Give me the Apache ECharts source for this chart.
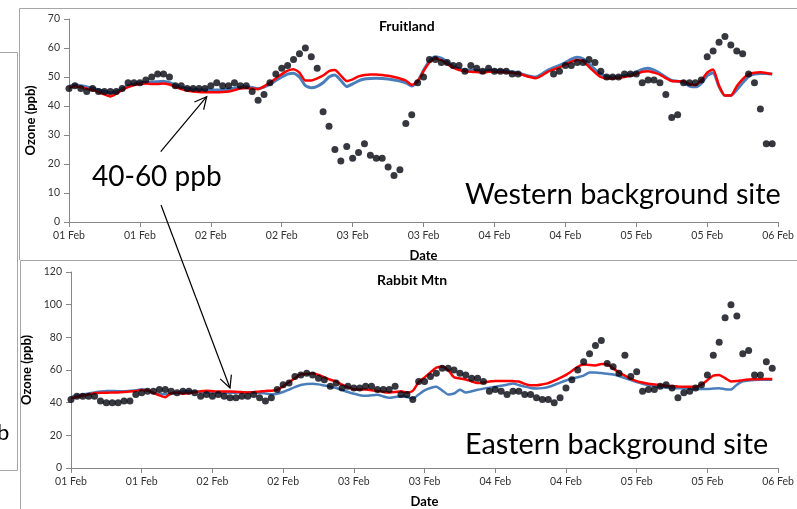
<!DOCTYPE html>
<html>
<head>
<meta charset="utf-8">
<script src="https://cdn.jsdelivr.net/npm/echarts@6/dist/echarts.min.js"></script>
<style>html,body{margin:0;padding:0;background:#fff}#c{width:797px;height:509px}</style>
</head>
<body>
<div id="c"></div>
<script>
// Hours since 01 Feb 00:00, tick labels every 12 hours
const tickLabels = ['01 Feb','01 Feb','02 Feb','02 Feb','03 Feb','03 Feb','04 Feb','04 Feb','05 Feb','05 Feb','06 Feb'];

// Fruitland (western background site) – hourly observed ozone (ppb)
const topObs = [
 46,47,46,45,46,45,45,45,45,46,
 48,48,48,49,50,51,51,50,47,47,
 46,46,46,46,47,48,47,47,48,47,
 47,45,42,44,48,51,53,54,56,58,
 60,57,53,38,33,25,21,26,22,24,
 27,23,22,22,19,16,18,34,37,48,
 50,56,56,55,55,54,54,52,54,53,
 52,53,52,52,52,51,51,null,null,null,
 null,null,51,52,54,54,55,55,56,55,
 52,50,50,50,51,51,51,48,49,49,
 48,44,36,37,48,48,48,49,57,59,
 62,64,61,59,58,51,48,39,27,27];
// Fruitland – model run (red)
const topRed = [
 46.3,46.8,46.5,46,45.5,44.8,44,43.3,44.2,45.5,
 46.5,47.2,47.6,47.8,47.6,47.6,47.8,47.4,46.6,45.8,
 45.3,45,44.8,44.7,44.7,44.7,44.8,45,45.5,46,
 46.2,46,45.8,46.8,48,49.5,51,52.2,52.7,51.5,
 48.8,48.8,49.5,50.5,52,52.4,50.5,48.6,49.2,50.2,
 50.7,50.9,50.9,50.7,50.4,50,49.5,48.8,47.3,48.5,
 52,55,56.4,55.8,54.5,53.2,52.4,52,51.8,51.7,
 51.5,51.8,51.8,51.7,51.6,51.5,51.2,50.6,50,49.6,
 50.5,51.8,52.6,53.3,54.3,55.3,55.9,55.5,53.5,51.6,
 50,49.5,49.5,49.7,50,50.4,51,51.8,52,51.5,
 50.8,49.6,48.6,48.5,48.5,47.6,47.2,48.8,51.5,52.6,
 47,43.6,43.6,46.8,49.3,51,51.5,51.6,51.4,51];
// Fruitland – model run (blue)
const topBlue = [
 46.8,47.2,47,46.6,46.2,45.6,45,44.5,45,46,
 47,47.6,48,48.2,48.2,48.4,48.5,48,47.2,46.4,
 46,45.8,45.6,45.5,45.5,45.5,45.6,45.8,46.2,46.5,
 46.6,46.4,46,46.5,47.5,48.8,50,51,51.3,50,
 47,46.3,46.8,48,50,50.7,48.8,46.7,47.6,48.7,
 49.3,49.5,49.6,49.5,49.3,49,48.6,48,46.9,48.5,
 52.3,55.5,57,56.5,55.2,53.6,52.8,52.4,52.3,52.2,
 52.1,52.3,52.3,52.2,52,51.8,51.4,50.8,50.3,50,
 51,52.3,53.2,54,55,56.2,56.8,56.3,54.5,52.6,
 51,50.2,50,50.1,50.4,50.9,51.7,52.6,53,52.4,
 51.3,49.9,48.8,48.5,48.1,46.9,46.6,47.8,50.5,51.5,
 46.7,43.6,43.6,45.6,48,50.2,51,51.2,51.2,51];

// Rabbit Mtn (eastern background site) – hourly observed ozone (ppb)
const botObs = [
 42,44,44,44,44,41,40,40,40,41,
 41,45,46,47,47,48,48,47,46,47,
 47,46,44,45,44,45,44,43,43,44,
 44,45,43,41,43,48,51,52,56,57,
 58,57,55,54,50,52,49,50,49,49,
 50,50,48,48,48,50,45,45,42,53,
 53,56,58,61,61,60,58,57,55,55,
 53,47,48,47,45,47,47,45,45,43,
 42,42,40,43,49,54,60,65,70,75,
 78,64,62,58,69,56,59,47,48,48,
 50,51,49,43,46,47,49,51,57,69,
 77,92,100,93,70,72,57,57,65,61];
// Rabbit Mtn – model run (red)
const botRed = [
 42.7,43.5,44.3,45,45.7,46,46,46.3,46.3,46.5,
 46.8,47.2,47.7,47.5,46,44.5,43.3,45.8,46,45.5,
 45.8,46.3,47,47.3,47,46.8,46.8,46.8,46.7,46.5,
 46.3,46.5,46.8,47.2,47.3,47.8,50,52.5,55,57.3,
 57.6,58,57,55.5,54,53,51,49.5,48.2,48,
 48,47.6,47.2,46.6,46.3,46.5,47,46.2,47.2,52.5,
 55.5,58.5,61.5,62,60,55.5,54.8,54.2,53,52,
 52.3,53,53.2,53.2,53.3,53.2,53,51.5,50.6,50.6,
 51.2,52,53.5,55.2,57,59.4,62,63.4,63,62.8,
 63.6,63.5,61,58.5,56.5,54.5,53.2,52.3,51.6,51.2,
 50.8,50.4,50.1,49.9,49.8,49.8,49.6,51,53.8,56.5,
 57,55,53,53.2,53.8,54.2,54.3,54.4,54.5,54.5];
// Rabbit Mtn – model run (blue)
const botBlue = [
 43.7,44.3,45,45.6,46.3,46.8,47.2,47.2,47,47,
 47.3,47.6,48.2,47.5,45.8,45.3,45.2,45.3,46,46.8,
 47,46.8,46.5,46.3,46.2,46,46,46,46.1,46.3,
 46.3,46.2,46,45.6,45.2,45.5,46.5,48,49.5,50.8,
 51.4,51.6,51.2,50.5,49.8,49,47.8,46.5,45.5,44.6,
 44.2,44.5,44.8,43.8,43,43.5,44,43.5,42.5,45,
 47.5,49,49.8,47.5,45,45.6,47.9,46.3,47,47.9,
 48.6,49.2,49.8,50.4,51,51.8,50.8,49.8,49,48.7,
 48.9,49.6,50.8,52.3,53.6,54.7,55.6,56.6,58.5,58.5,
 58.1,57.7,57.3,56.3,55,53.8,52.6,51.6,50.8,50.2,
 49.6,49.2,49,48.8,48.7,48.5,48.3,48.3,48.3,48.6,
 48.9,48.2,48,51,53,53.6,53.9,54,54.1,54.1];

const pairs = arr => arr.map((v, i) => [i, v]).filter(p => p[1] !== null);

const FONT = 'Lato';
const axisGrey = '#868686';
function xAxis(gi) {
  return {
    type: 'value', gridIndex: gi, min: 0, max: 120, interval: 12,
    axisLine: { show: true, lineStyle: { color: axisGrey } },
    axisTick: { show: true, length: 5, lineStyle: { color: axisGrey } },
    splitLine: { show: false },
    axisLabel: { formatter: v => tickLabels[Math.round(v / 12)], color: '#333', fontSize: 10.5, fontFamily: FONT, margin: 8, showMaxLabel: true, showMinLabel: true },
    name: 'Date', nameLocation: 'middle', nameGap: 27,
    nameTextStyle: { fontWeight: 'bold', fontSize: 13, fontFamily: FONT, color: '#000' }
  };
}
function yAxis(gi, max, interval) {
  return {
    type: 'value', gridIndex: gi, min: 0, max: max, interval: interval,
    axisLine: { show: true, lineStyle: { color: axisGrey } },
    axisTick: { show: true, length: 5, lineStyle: { color: axisGrey } },
    splitLine: { show: false },
    axisLabel: { color: '#333', fontSize: 10.5, fontFamily: FONT, margin: 9 },
    name: 'Ozone (ppb)', nameLocation: 'middle', nameGap: 29,
    nameTextStyle: { fontWeight: 'bold', fontSize: 13, fontFamily: FONT, color: '#000' }
  };
}
function lineSeries(gi, data, color, width, z) {
  return { type: 'line', xAxisIndex: gi, yAxisIndex: gi, data: pairs(data), showSymbol: false,
    smooth: 0.2, lineStyle: { color: color, width: width }, itemStyle: { color: color }, z: z };
}
function dotSeries(gi, data) {
  return { type: 'scatter', xAxisIndex: gi, yAxisIndex: gi, data: pairs(data), symbolSize: 7,
    itemStyle: { color: '#05050f' }, z: 5 };
}

function arrow(x1, y1, x2, y2) {
  const dx = x2 - x1, dy = y2 - y1, L = Math.hypot(dx, dy);
  const ux = dx / L, uy = dy / L, bx = x2 - 12 * ux, by = y2 - 12 * uy;
  const px = -uy * 6, py = ux * 6;
  return [
    { type: 'line', shape: { x1, y1, x2, y2 }, style: { stroke: '#000', lineWidth: 1.2 }, z: 10 },
    { type: 'polyline', shape: { points: [[bx + px, by + py], [x2, y2], [bx - px, by - py]] }, style: { stroke: '#000', lineWidth: 1.2, fill: null }, z: 10 }
  ];
}

const frameColor = '#a6a6a6';
const chart = echarts.init(document.getElementById('c'), null, { renderer: 'canvas' });
chart.setOption({
  animation: false,
  backgroundColor: '#fff',
  title: [
    { text: 'Fruitland', left: 379, top: 19, padding: 0, textStyle: { fontSize: 14, fontWeight: 'bold', fontFamily: FONT, color: '#000' } },
    { text: 'Rabbit Mtn', left: 377, top: 273, padding: 0, textStyle: { fontSize: 14, fontWeight: 'bold', fontFamily: FONT, color: '#000' } }
  ],
  grid: [
    { left: 69, top: 19, width: 716, height: 203 },
    { left: 71, top: 272, width: 715, height: 203 }
  ],
  xAxis: [xAxis(0), xAxis(1)],
  yAxis: [yAxis(0, 70, 10), yAxis(1, 120, 20)],
  series: [
    lineSeries(0, topBlue, '#4a7ebb', 3, 2),
    lineSeries(0, topRed, '#ff0000', 2.5, 3),
    dotSeries(0, topObs),
    lineSeries(1, botBlue, '#4a7ebb', 2.5, 2),
    lineSeries(1, botRed, '#ff0000', 2.5, 3),
    dotSeries(1, botObs)
  ],
  graphic: [
    { type: 'polyline', shape: { points: [[0, 52.5], [17.5, 52.5], [17.5, 470.5], [0, 470.5]] }, style: { stroke: frameColor, lineWidth: 1, fill: null }, z: 0 },
    { type: 'text', left: -3, top: 422, style: { text: 'b', fontSize: 22, fontFamily: FONT, fill: '#000' } },
    { type: 'polyline', shape: { points: [[19.5, 260], [19.5, 8.5], [800, 8.5]] }, style: { stroke: frameColor, lineWidth: 1, fill: null }, z: 0 },
    { type: 'polyline', shape: { points: [[20.5, 520], [20.5, 260.5], [800, 260.5]] }, style: { stroke: frameColor, lineWidth: 1, fill: null }, z: 0 },
    { type: 'text', left: 92, top: 163, style: { text: '40-60 ppb', fontSize: 28, fontFamily: FONT, fill: '#000' }, z: 10 },
    { type: 'text', left: 465, top: 180, style: { text: 'Western background site', fontSize: 28.8, fontFamily: FONT, fill: '#000' }, z: 10 },
    { type: 'text', left: 465, top: 430, style: { text: 'Eastern background site', fontSize: 28.8, fontFamily: FONT, fill: '#000' }, z: 10 },
    ...arrow(160.7, 151.7, 206.7, 96.7),
    ...arrow(161, 205, 230, 388)
  ]
});
</script>
</body>
</html>
